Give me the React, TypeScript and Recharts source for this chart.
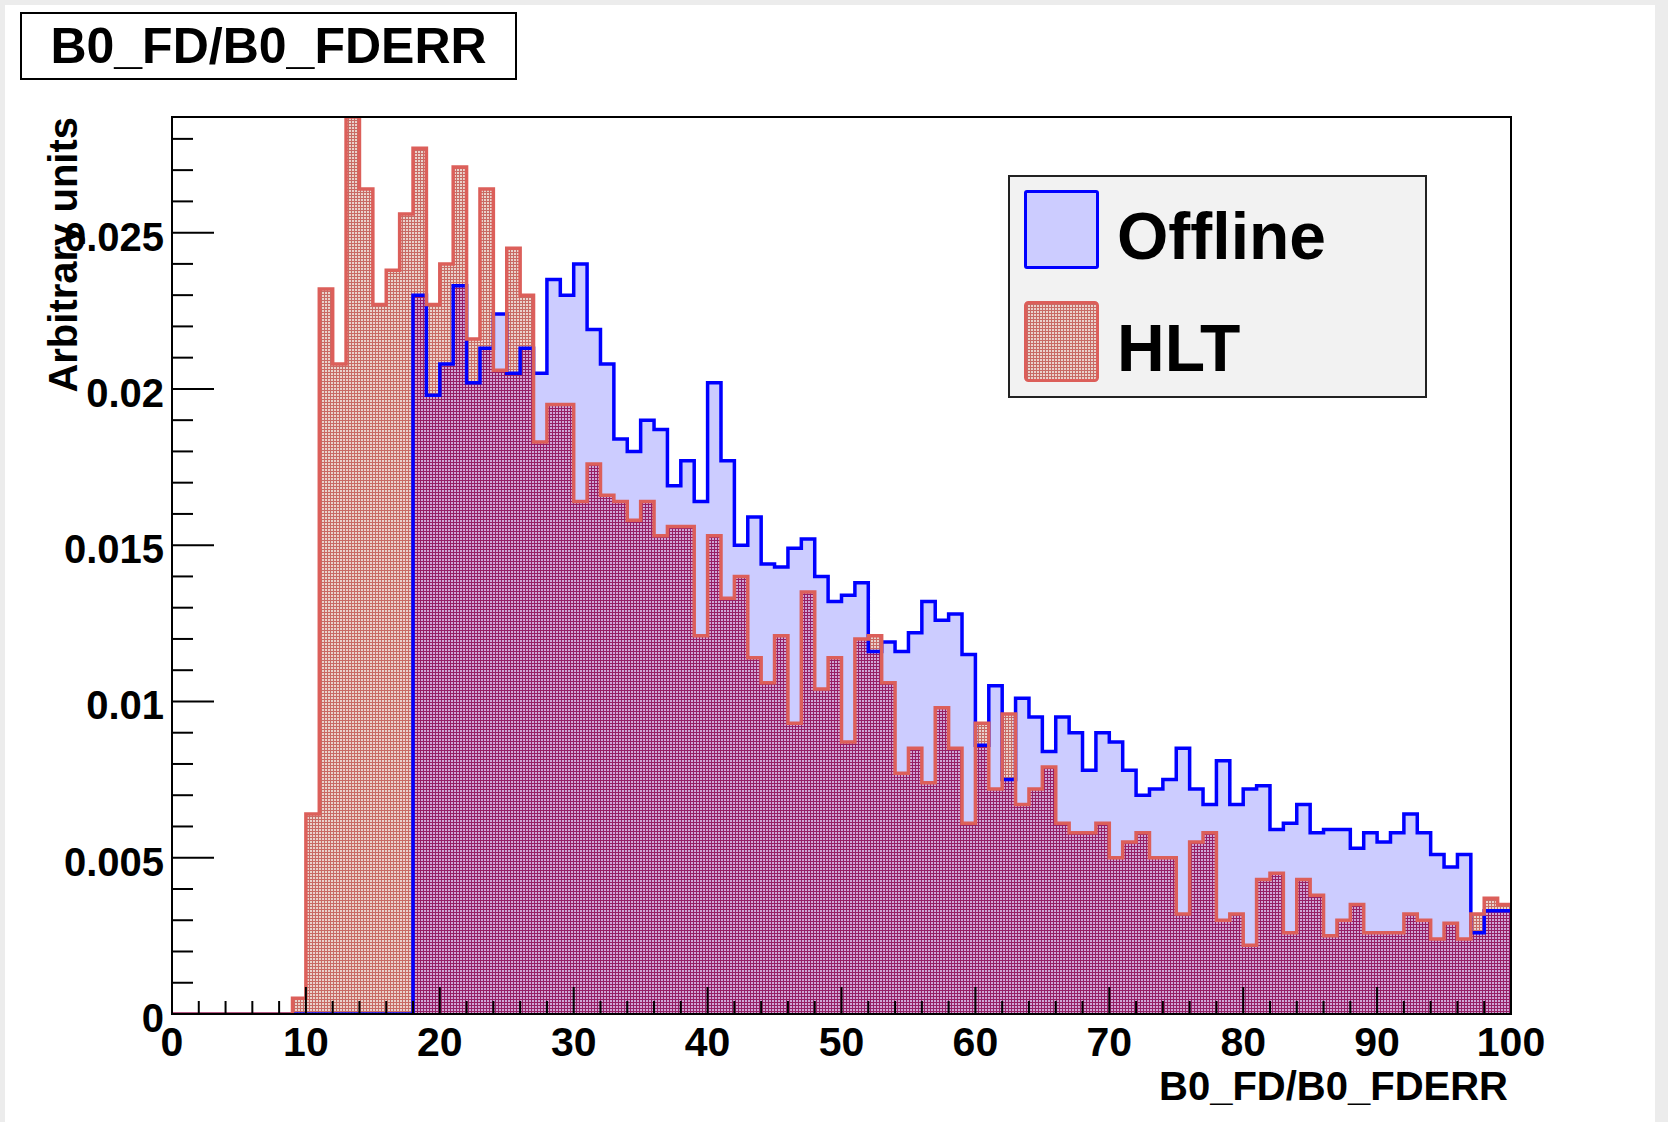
import { Area, ComposedChart, Line, XAxis, YAxis } from "recharts";

// histogram B0_FD/B0_FDERR, 100 bins from 0 to 100, normalised
const BIN_LOW = 0;
const BIN_WIDTH = 1;

const offline = [
  0, 0, 0, 0, 0, 0, 0, 0, 0, 0,
  0, 0, 0, 0, 0, 0, 0, 0, 0.023, 0.0198,
  0.0208, 0.0233, 0.0202, 0.0213, 0.0224, 0.0205, 0.0213, 0.0205, 0.0235, 0.023,
  0.024, 0.0219, 0.0208, 0.0184, 0.018, 0.019, 0.0187, 0.0169, 0.0177, 0.0164,
  0.0202, 0.0177, 0.015, 0.0159, 0.0144, 0.0143, 0.0149, 0.0152, 0.014, 0.0132,
  0.0134, 0.0138, 0.0116, 0.0119, 0.0116, 0.0122, 0.0132, 0.0126, 0.0128, 0.0115,
  0.0086, 0.0105, 0.0075, 0.0101, 0.0095, 0.0084, 0.0095, 0.009, 0.0078, 0.009,
  0.0087, 0.0078, 0.007, 0.0072, 0.0075, 0.0085, 0.0072, 0.0067, 0.0081, 0.0067,
  0.0072, 0.0073, 0.0059, 0.0061, 0.0067, 0.0058, 0.0059, 0.0059, 0.0053, 0.0058,
  0.0055, 0.0058, 0.0064, 0.0058, 0.0051, 0.0047, 0.0051, 0.0026, 0.0033, 0.0033,
];

const hlt = [
  0, 0, 0, 0, 0, 0, 0, 0, 0, 0.0005,
  0.0064, 0.0232, 0.0208, 0.0287, 0.0264, 0.0227, 0.0238, 0.0256, 0.0277, 0.0227,
  0.024, 0.0271, 0.0216, 0.0264, 0.0206, 0.0245, 0.023, 0.0183, 0.0195, 0.0195,
  0.0164, 0.0176, 0.0166, 0.0164, 0.0158, 0.0164, 0.0153, 0.0156, 0.0156, 0.0121,
  0.0153, 0.0133, 0.014, 0.0114, 0.0106, 0.0121, 0.0093, 0.0135, 0.0104, 0.0114,
  0.0087, 0.012, 0.0121, 0.0106, 0.0077, 0.0085, 0.0074, 0.0098, 0.0085, 0.0061,
  0.0093, 0.0072, 0.0096, 0.0067, 0.0072, 0.0079, 0.0061, 0.0058, 0.0058, 0.0061,
  0.005, 0.0055, 0.0058, 0.005, 0.005, 0.0032, 0.0055, 0.0058, 0.003, 0.0032,
  0.0022, 0.0043, 0.0045, 0.0026, 0.0043, 0.0038, 0.0025, 0.003, 0.0035, 0.0026,
  0.0026, 0.0026, 0.0032, 0.003, 0.0024, 0.0029, 0.0024, 0.0032, 0.0037, 0.0035,
];

const xMajorTicks = [0, 10, 20, 30, 40, 50, 60, 70, 80, 90, 100];
const yMajorTicks = [0, 0.005, 0.01, 0.015, 0.02, 0.025];
const yTickLabels = ["0", "0.005", "0.01", "0.015", "0.02", "0.025"];
const seriesNames = ["Offline", "HLT"];
const titleText = "B0_FD/B0_FDERR";
const xTitle = "B0_FD/B0_FDERR";
const yTitle = "Arbitrary units";

const xMinorTicks = Array.from({ length: 51 }, (_, i) => i * 2);
const yMinorTicks = Array.from({ length: 29 }, (_, i) => +(i * 0.001).toFixed(3));

const W = 1668;
const H = 1122;
const PLOT = { left: 172, top: 117, right: 1511, bottom: 1014 };
const X_AXIS_H = 60;
const Y_AXIS_W = 100;
const FONT = '"Liberation Sans", Arial, Helvetica, sans-serif';

const BLUE = "#0000ff";
const BLUE_FILL = "#ccccff";
const RED = "#dc5f5a";

// one row per bin edge, last edge repeats the last bin so the step closes at 100
const rows = Array.from({ length: offline.length + 1 }, (_, i) => {
  const k = Math.min(i, offline.length - 1);
  return {
    x: BIN_LOW + i * BIN_WIDTH,
    offline: offline[k],
    hlt: hlt[k],
    both: Math.min(offline[k], hlt[k]),
  };
});

function XTick(props: any) {
  const { x, payload } = props;
  const v = payload.value;
  const major = xMajorTicks.includes(v);
  return (
    <g>
      <line x1={x} x2={x} y1={PLOT.bottom} y2={PLOT.bottom - (major ? 27 : 13)} stroke="#000" strokeWidth={2} />
      {major && (
        <text x={x} y={PLOT.bottom + 42} textAnchor="middle" fontFamily={FONT} fontWeight="bold" fontSize={41} fill="#000">
          {v}
        </text>
      )}
    </g>
  );
}

function YTick(props: any) {
  const { y, payload } = props;
  const v = payload.value;
  const idx = yMajorTicks.findIndex((m) => Math.abs(m - v) < 1e-9);
  return (
    <g>
      <line x1={PLOT.left} x2={PLOT.left + (idx >= 0 ? 42 : 21)} y1={y} y2={y} stroke="#000" strokeWidth={2} />
      {idx >= 0 && (
        <text x={PLOT.left - 8} y={y + 18} textAnchor="end" fontFamily={FONT} fontWeight="bold" fontSize={40} fill="#000">
          {yTickLabels[idx]}
        </text>
      )}
    </g>
  );
}

function Hatch({ id, line, gap }: { id: string; line: string; gap: string }) {
  return (
    <pattern id={id} width={3} height={3} patternUnits="userSpaceOnUse">
      <rect width={3} height={3} fill={gap} />
      <rect width={3} height={1} fill={line} />
      <rect width={1} height={3} fill={line} />
    </pattern>
  );
}

function LegendBox() {
  const entry = (name: string, swatch: any, top: number) => (
    <div style={{ position: "absolute", left: 14, top, height: 80, display: "flex", alignItems: "center" }}>
      {swatch}
      <span style={{ marginLeft: 18, marginTop: 14, fontFamily: FONT, fontWeight: "bold", fontSize: 66, lineHeight: "80px" }}>{name}</span>
    </div>
  );
  return (
    <div
      style={{
        position: "absolute",
        left: 1008,
        top: 175,
        width: 419,
        height: 223,
        boxSizing: "border-box",
        border: "2px solid #222",
        background: "#f2f2f2",
      }}
    >
      {entry(
        seriesNames[0],
        <div style={{ width: 75, height: 79, boxSizing: "border-box", border: `3px solid ${BLUE}`, borderRadius: 3, background: BLUE_FILL }} />,
        12
      )}
      {entry(
        seriesNames[1],
        <svg width={75} height={81}>
          <defs>
            <Hatch id="legHatch" line="#c86a64" gap="#ead2cc" />
          </defs>
          <rect x={1.5} y={1.5} width={72} height={78} rx={3} fill="url(#legHatch)" stroke={RED} strokeWidth={3} />
        </svg>,
        124
      )}
    </div>
  );
}

export default function App() {
  return (
    <div style={{ position: "absolute", left: 0, top: 0, width: W, height: H, background: "#ececec", overflow: "hidden" }}>
      <div style={{ position: "absolute", left: 5, top: 5, width: 1650, height: H - 5, background: "#fff" }} />
      <div style={{ position: "absolute", left: 0, top: 0 }}>
        <ComposedChart
          width={W}
          height={H}
          data={rows}
          margin={{ top: PLOT.top, right: W - PLOT.right, bottom: H - PLOT.bottom - X_AXIS_H, left: PLOT.left - Y_AXIS_W }}
        >
          <defs>
            <Hatch id="hltHatch" line="#c86a64" gap="#ead2cc" />
            <Hatch id="bothHatch" line="#961e64" gap="#cfa6d6" />
          </defs>
          <Area type="stepAfter" dataKey="offline" fill={BLUE_FILL} fillOpacity={1} stroke="none" isAnimationActive={false} />
          <Area type="stepAfter" dataKey="hlt" fill="url(#hltHatch)" fillOpacity={1} stroke="none" isAnimationActive={false} />
          <Area type="stepAfter" dataKey="both" fill="url(#bothHatch)" fillOpacity={1} stroke="none" isAnimationActive={false} />
          <Line type="stepAfter" dataKey="offline" stroke={BLUE} strokeWidth={3.5} dot={false} isAnimationActive={false} />
          <Line type="stepAfter" dataKey="hlt" stroke={RED} strokeWidth={3.5} dot={false} isAnimationActive={false} />
          <XAxis
            type="number"
            dataKey="x"
            domain={[0, 100]}
            allowDataOverflow
            ticks={xMinorTicks}
            interval={0}
            height={X_AXIS_H}
            axisLine={false}
            tickLine={false}
            tick={(p: any) => <XTick {...p} />}
          />
          <YAxis
            type="number"
            domain={[0, 0.0287]}
            allowDataOverflow
            ticks={yMinorTicks}
            interval={0}
            width={Y_AXIS_W}
            axisLine={false}
            tickLine={false}
            tick={(p: any) => <YTick {...p} />}
          />
        </ComposedChart>
      </div>
      <svg width={W} height={H} style={{ position: "absolute", left: 0, top: 0, pointerEvents: "none" }}>
        <rect x={PLOT.left} y={PLOT.top} width={PLOT.right - PLOT.left} height={PLOT.bottom - PLOT.top} fill="none" stroke="#000" strokeWidth={2} />
        <text x={PLOT.right - 3} y={1100} textAnchor="end" fontFamily={FONT} fontWeight="bold" fontSize={40}>
          {xTitle}
        </text>
        <text x={77} y={PLOT.top} transform={`rotate(-90 77 ${PLOT.top})`} textAnchor="end" fontFamily={FONT} fontWeight="bold" fontSize={40}>
          {yTitle}
        </text>
      </svg>
      <div
        style={{
          position: "absolute",
          left: 20,
          top: 12,
          width: 497,
          height: 68,
          boxSizing: "border-box",
          border: "2px solid #000",
          background: "#fff",
          textAlign: "center",
          fontFamily: FONT,
          fontWeight: "bold",
          fontSize: 50,
          lineHeight: "64px",
        }}
      >
        {titleText}
      </div>
      <LegendBox />
    </div>
  );
}
